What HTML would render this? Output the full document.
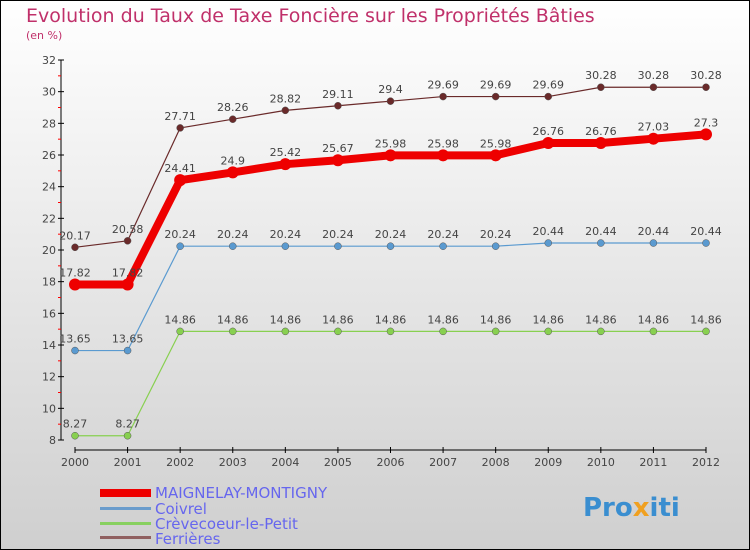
<!DOCTYPE html>
<html><head><meta charset="utf-8"><style>
body{margin:0}
svg{display:block;font-family:"DejaVu Sans","Liberation Sans",sans-serif}
</style></head><body>
<svg id="c" width="750" height="550">
<defs><linearGradient id="bg" x1="0" y1="0" x2="0" y2="1"><stop offset="0" stop-color="#ffffff"/><stop offset="1" stop-color="#cfcfcf"/></linearGradient></defs>
<rect x="0.5" y="0.5" width="749" height="549" fill="url(#bg)" stroke="#000"/>
<text x="26" y="22" font-size="19" fill="#c0306a">Evolution du Taux de Taxe Foncière sur les Propriétés Bâties</text>
<text x="26" y="39" font-size="11" fill="#c0306a">(en %)</text>
<g id="plot"></g>
<g>
<rect x="100" y="489" width="51" height="8" fill="#e00"/>
<text x="155" y="498" font-size="15" fill="#6666ee">MAIGNELAY-MONTIGNY</text>
<rect x="100" y="507" width="51" height="3" fill="#6a9ccc"/>
<text x="155" y="514" font-size="15" fill="#6666ee">Coivrel</text>
<rect x="100" y="522" width="51" height="3" fill="#88d060"/>
<text x="155" y="529" font-size="15" fill="#6666ee">Crèvecoeur-le-Petit</text>
<rect x="100" y="536" width="51" height="3" fill="#906060"/>
<text x="155" y="544" font-size="15" fill="#6666ee">Ferrières</text>
</g>
<text x="583" y="516" font-size="26" font-weight="bold" fill="#3a8ed0">Pro<tspan fill="#f0a020">x</tspan>iti</text>
</svg>
<script>
const years=[2000,2001,2002,2003,2004,2005,2006,2007,2008,2009,2010,2011,2012];
const maignelay=[17.82,17.82,24.41,24.9,25.42,25.67,25.98,25.98,25.98,26.76,26.76,27.03,27.3];
const coivrel=[13.65,13.65,20.24,20.24,20.24,20.24,20.24,20.24,20.24,20.44,20.44,20.44,20.44];
const crevecoeur=[8.27,8.27,14.86,14.86,14.86,14.86,14.86,14.86,14.86,14.86,14.86,14.86,14.86];
const ferrieres=[20.17,20.58,27.71,28.26,28.82,29.11,29.4,29.69,29.69,29.69,30.28,30.28,30.28];
const yTicks=[8,10,12,14,16,18,20,22,24,26,28,30,32];
const NS='http://www.w3.org/2000/svg';
const g=document.getElementById('plot');
const X=i=>75+i*(706-75)/12;
const Y=v=>440-(v-8)*(380/24);
function el(t,a,p){const e=document.createElementNS(NS,t);for(const k in a)e.setAttribute(k,a[k]);(p||g).appendChild(e);return e;}
let ax=el('line',{x1:61,y1:60,x2:61,y2:440,stroke:'#000'});


yTicks.forEach((v,i)=>{
 el('line',{x1:58,x2:64,y1:Y(v),y2:Y(v),stroke:'#000'});
 if(i<yTicks.length-1) el('line',{x1:58,x2:61,y1:Y(v+1),y2:Y(v+1),stroke:'#f00'});
 const t=el('text',{x:56,y:Y(v)+4,'font-size':11,fill:'#444','text-anchor':'end'});
 t.textContent=v;
 
 
});
let xa=el('line',{x1:75,y1:450,x2:706,y2:450,stroke:'#000'});


years.forEach((yr,i)=>{
 el('line',{x1:X(i),x2:X(i),y1:447,y2:453,stroke:'#000'});
 const t=el('text',{x:X(i),y:466,'font-size':11,fill:'#444','text-anchor':'middle'});
 t.textContent=yr;
 
 
});
function series(data,color,w,r,name){
 const grp=el('g',{});
 
 
 el('polyline',{points:data.map((v,i)=>X(i)+','+Y(v)).join(' '),fill:'none',stroke:color,'stroke-width':w,'stroke-linejoin':'round'},grp);
 data.forEach((v,i)=>{
  const c=el('circle',{cx:X(i),cy:Y(v),r:r,fill:color,stroke:w>3?'none':'#555','stroke-width':0.5},grp);
  
  
  const t=el('text',{x:X(i),y:Y(v)-8,'font-size':11,fill:'#444','text-anchor':'middle'},grp);
  t.textContent=v;
  
  
 });
}
series(ferrieres,'#6a2a2a',1.2,3.5,'ferrieres');
series(coivrel,'#5a9ad0',1.2,3.5,'coivrel');
series(crevecoeur,'#88d050',1.2,3.5,'crevecoeur');
series(maignelay,'#e00',8,6,'maignelay');
</script>
</body></html>
